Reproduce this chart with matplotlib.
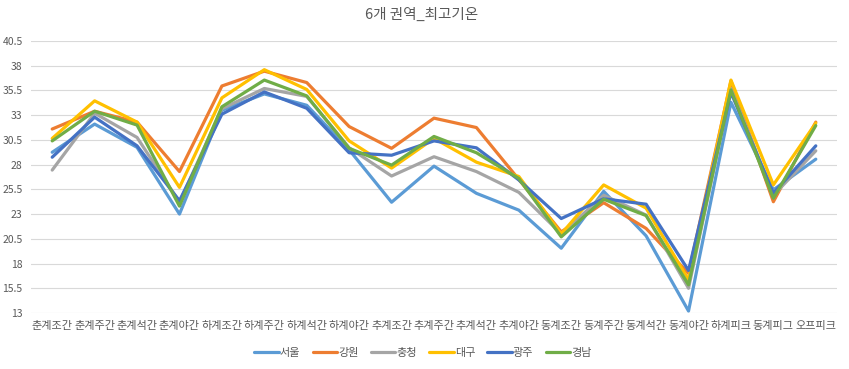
import matplotlib
matplotlib.use("Agg")
import matplotlib.pyplot as plt
import numpy as np

plt.rcParams['font.family'] = ['Noto Sans CJK KR', 'DejaVu Sans']

categories = ['춘계조간', '춘계주간', '춘계석간', '춘계야간', '하계조간', '하계주간', '하계석간',
              '하계야간', '추계조간', '추계주간', '추계석간', '추계야간', '동계조간', '동계주간',
              '동계석간', '동계야간', '하계피크', '동계피그', '오프피크']

seoul     = [29.25, 32.1, 29.75, 23.0, 33.5, 35.15, 34.0, 29.5, 24.2, 27.85, 25.1, 23.4, 19.55, 25.3, 20.8, 13.2, 34.3, 25.45, 28.55]
gangwon   = [31.6, 33.4, 32.3, 27.3, 35.95, 37.45, 36.3, 31.85, 29.65, 32.7, 31.75, 26.5, 21.2, 24.15, 21.55, 17.0, 36.45, 24.25, 32.3]
chungcheong = [27.45, 33.2, 30.75, 24.2, 33.65, 35.7, 34.9, 29.7, 26.85, 28.8, 27.3, 25.2, 21.0, 24.9, 22.9, 15.5, 35.7, 24.9, 29.4]
daegu     = [30.65, 34.45, 32.3, 25.7, 34.75, 37.6, 35.6, 30.4, 27.65, 30.65, 28.25, 26.8, 21.0, 25.95, 23.6, 16.35, 36.55, 25.95, 32.2]
gwangju   = [28.75, 32.8, 29.9, 24.35, 33.1, 35.35, 33.7, 29.2, 28.95, 30.4, 29.7, 26.45, 22.55, 24.55, 24.0, 17.3, 35.3, 25.1, 29.9]
gyeongnam = [30.4, 33.4, 32.0, 23.8, 33.85, 36.55, 34.95, 29.65, 27.95, 30.85, 29.2, 26.6, 20.7, 24.5, 22.85, 15.85, 35.55, 24.6, 31.95]

series = [('서울', seoul, '#5B9BD5'), ('강원', gangwon, '#ED7D31'), ('충청', chungcheong, '#A5A5A5'),
          ('대구', daegu, '#FFC000'), ('광주', gwangju, '#4472C4'), ('경남', gyeongnam, '#70AD47')]

yticks = np.arange(13, 40.6, 2.5)

fig = plt.figure(figsize=(8.49, 3.69), dpi=100)
ax = fig.add_axes([31 / 849, 1 - 313 / 369, 806 / 849, 272 / 369])

x = np.arange(len(categories))
for name, vals, color in series:
    ax.plot(x, vals, color=color, lw=2.3, label=name, solid_joinstyle='round', solid_capstyle='round')

ax.set_xlim(-0.5, len(categories) - 0.5)
ax.set_ylim(13, 40.5)
ax.set_yticks(yticks)
ax.set_yticklabels(['%g' % t for t in yticks])
ax.set_xticks(x)
ax.set_xticklabels(categories)
ax.grid(axis='y', color='#D9D9D9', lw=0.8)
ax.set_axisbelow(True)
for s in ax.spines.values():
    s.set_visible(False)
ax.tick_params(length=0, colors='#595959', labelsize=7.5)
ax.tick_params(axis='x', labelsize=8, pad=6)
ax.tick_params(axis='y', pad=6)

fig.text(422 / 849, 1 - 15 / 369, '6개 권역_최고기온', ha='center', va='center',
         fontsize=10.5, color='#595959')

leg = fig.legend(loc='center', bbox_to_anchor=(423 / 849, 1 - 353 / 369), ncol=6, frameon=False,
                 fontsize=8, handlelength=2.2, handletextpad=0.1, columnspacing=1.1,
                 labelcolor='#595959')

fig.savefig('out.png', dpi=100)
